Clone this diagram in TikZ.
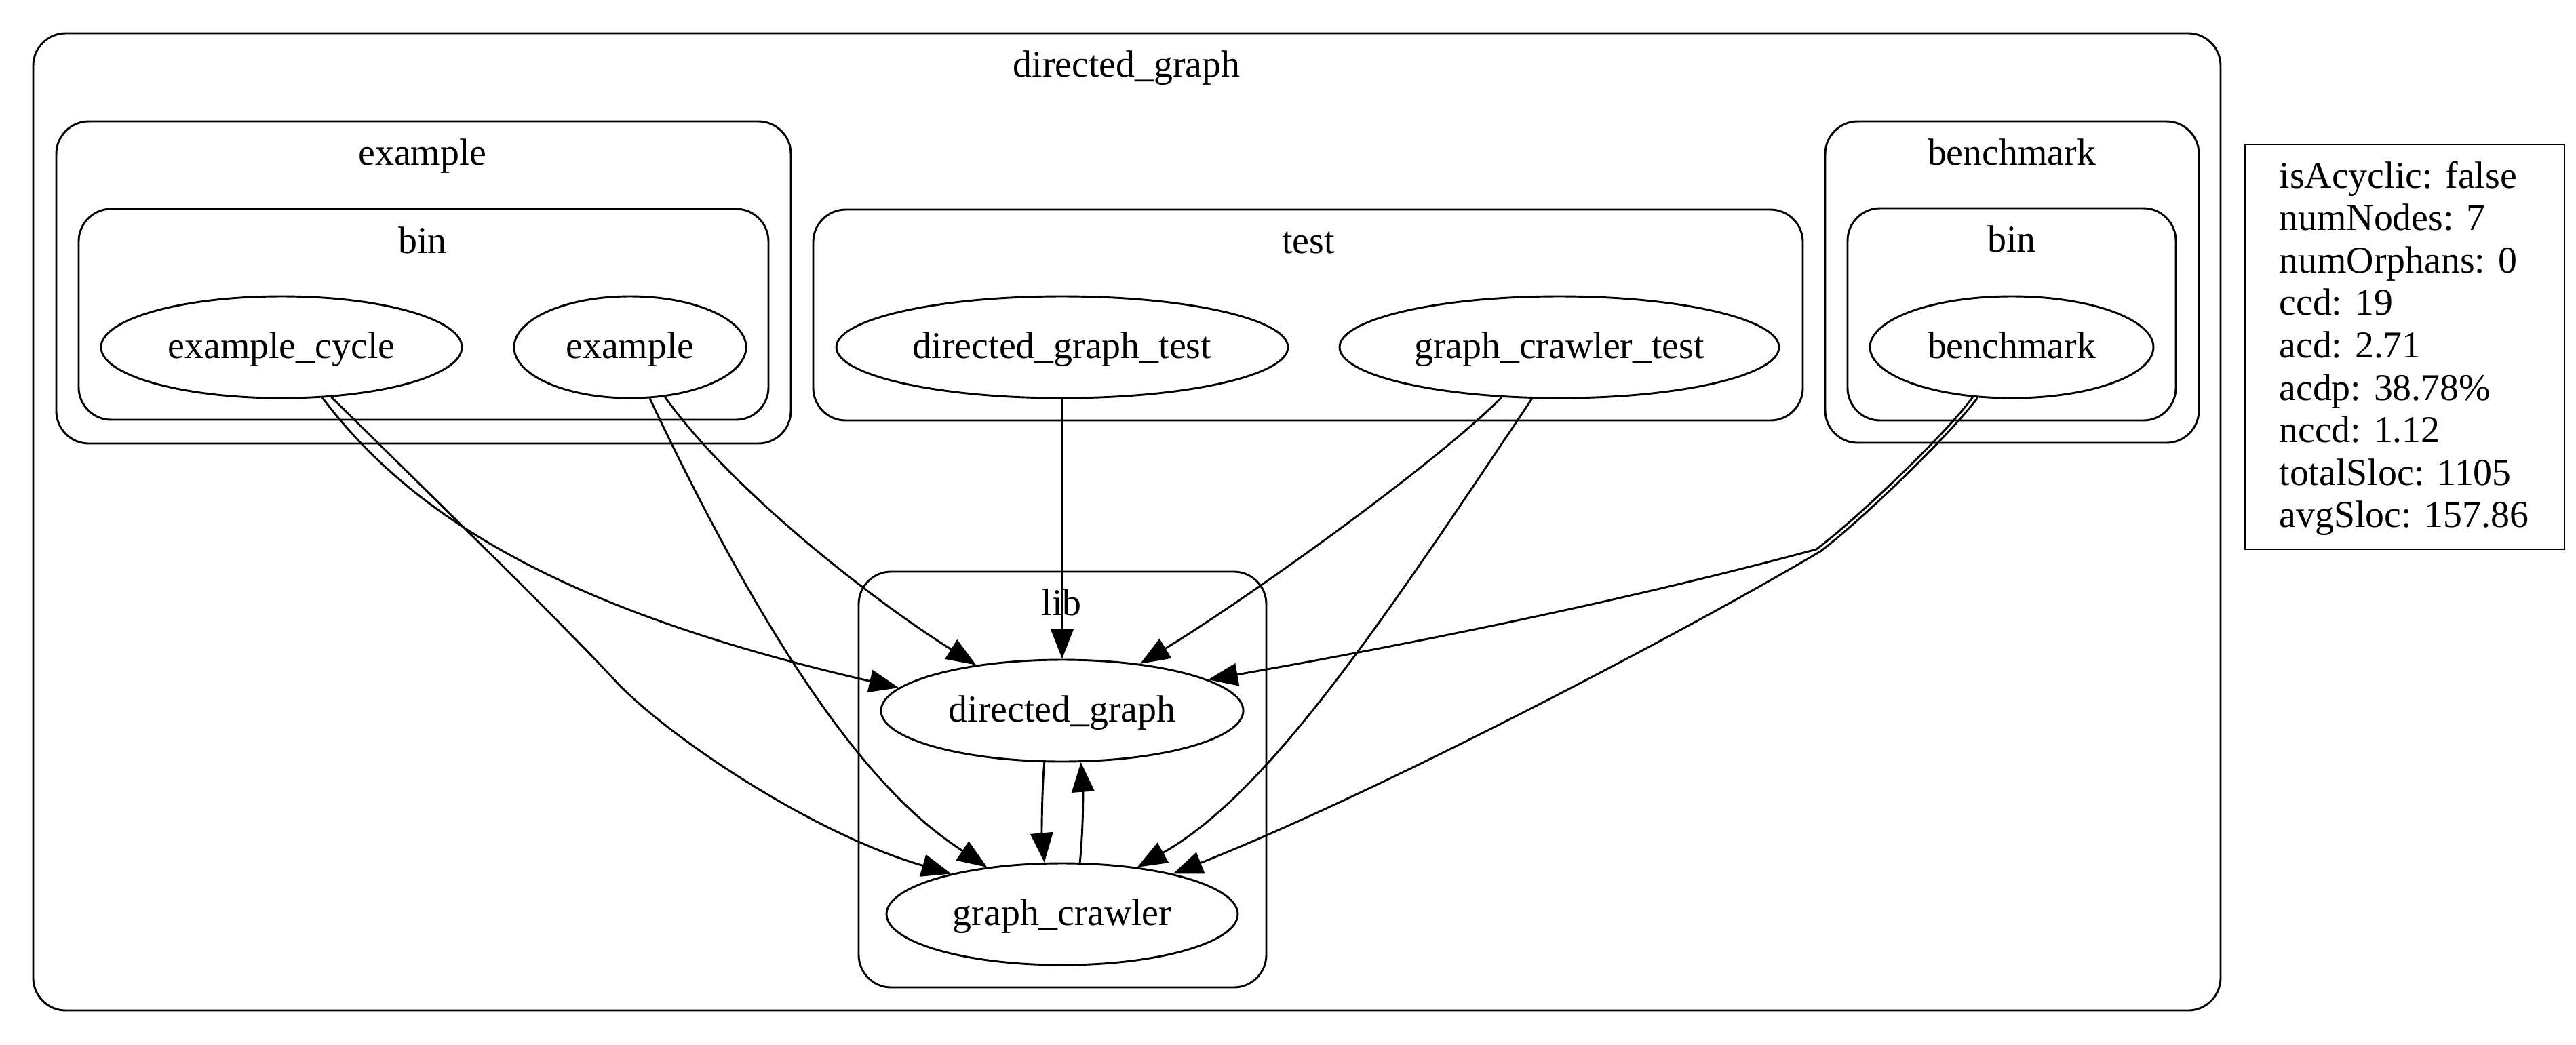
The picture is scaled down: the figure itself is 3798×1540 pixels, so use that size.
\documentclass[tikz,border=0pt]{standalone}
\usepackage{fontspec}
\setmainfont{Liberation Serif}
\usepackage{tikz}
\usetikzlibrary{arrows.meta, shapes.geometric}

\begin{document}
\begin{tikzpicture}[x=0.24pt, y=-0.24pt, line width=0.7pt,
  font=\fontsize{13.4}{15}\selectfont,
  cluster/.style={draw, rounded corners=11.5pt},
  clabel/.style={anchor=base, inner sep=0pt},
  pkg/.style={draw, ellipse, inner sep=0pt, minimum height=36pt, text height=9.5pt, text depth=1.8pt},
  dep/.style={-{Triangle[length=10.5pt, width=8pt]}}]
\useasboundingbox (0,0) rectangle (3798,1540);
\draw[cluster] (49,49) rectangle (3274,1490);
\node[clabel] (lroot) at (1661,113) {directed\_graph};
\draw[cluster] (83,179) rectangle (1166,654);
\node[clabel] (lexample) at (623,243) {example};
\draw[cluster] (116,308) rectangle (1133,619);
\node[clabel] (lexbin) at (623,373) {bin};
\draw[cluster] (1199,309) rectangle (2658,620);
\node[clabel] (ltest) at (1929,373) {test};
\draw[cluster] (2691,179) rectangle (3242,653);
\node[clabel] (lbench) at (2966,243) {benchmark};
\draw[cluster] (2724,307) rectangle (3208,620);
\node[clabel] (lbenchbin) at (2966,371) {bin};
\draw[cluster] (1266,843) rectangle (1867,1456);
\node[clabel] (llib) at (1565,907) {lib};
\node[pkg, minimum width=127.7pt] (ecycle) at (415,512) {example\_cycle};
\node[pkg, minimum width=82.1pt] (expl) at (929,512) {example};
\node[pkg, minimum width=159.8pt] (dgtest) at (1566,512) {directed\_graph\_test};
\node[pkg, minimum width=155.5pt] (gctest) at (2299,512) {graph\_crawler\_test};
\node[pkg, minimum width=100.3pt] (bench) at (2966,512) {benchmark};
\node[pkg, minimum width=128.2pt] (dg) at (1566,1048) {directed\_graph};
\node[pkg, minimum width=124.3pt] (gc) at (1566,1348) {graph\_crawler};
\draw[dep] (ecycle.-51) .. controls (615,772) and (850,905) .. (dg.172);
\draw[dep] (ecycle.-45) .. controls (640,735) and (830,920) .. (910,1007) .. controls (990,1090) and (1200,1230) .. (gc.160);
\draw[dep] (expl.-55) .. controls (1079,724) and (1291,888) .. (dg.152);
\draw[dep] (expl.-69) .. controls (1200,1100) and (1352,1210) .. (gc.148);
\draw[dep] (dgtest) -- (dg);
\draw[dep] (gctest.-139) .. controls (2110,690) and (1829,889) .. (dg.31);
\draw[dep] (gctest.-118) .. controls (2040,915) and (1870,1170) .. (gc.32);
\draw[dep] (bench.-128) .. controls (2870,639) and (2738,765) .. (2678,810) .. controls (2400,885) and (2080,950) .. (dg.12);
\draw[dep] (bench.-124) .. controls (2877,639) and (2745,767) .. (2684,813) .. controls (2478,935) and (2029,1170) .. (gc.20);
\draw[dep] (dg.-109) .. controls (1536,1165) and (1536,1230) .. (gc.109);
\draw[dep] (gc.71) .. controls (1597,1225) and (1597,1170) .. (dg.-70);
\draw (3310,213) rectangle (3781,810);
\foreach \txt [count=\i from 0] in {isAcyclic: false, numNodes: 7, numOrphans: 0, ccd: 19, acd: 2.71, acdp: 38.78\%, nccd: 1.12, totalSloc: 1105, avgSloc: 157.86}
  \node[anchor=base west, inner sep=0pt] (m\i) at (3359,{277+62.6*\i}) {\txt};
\end{tikzpicture}
\end{document}
